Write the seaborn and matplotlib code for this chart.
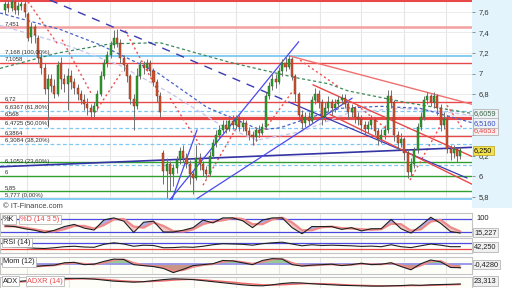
import numpy as np
import pandas as pd
import matplotlib
matplotlib.use("Agg")
import matplotlib.pyplot as plt
import matplotlib.transforms as mtransforms
from matplotlib.patches import Rectangle
import seaborn as sns

# ---------------- data ----------------
opens = [7.62, 7.68, 7.64, 7.70, 7.62, 7.66, 7.68, 7.58, 7.36, 7.45,
         7.35, 7.15, 7.05, 6.85, 6.95, 6.88, 6.80, 7.10, 6.95, 6.90,
         6.98, 6.92, 6.86, 6.80, 6.74, 6.70, 6.66, 6.62, 6.68, 6.80,
         6.98, 7.10, 7.18, 7.28, 7.35, 7.30, 7.15, 7.08, 6.98, 6.75,
         6.68, 6.98, 7.08, 7.05, 7.10, 7.02, 6.92, 6.78, 6.22, 6.05,
         6.12, 6.02, 6.08, 6.16, 6.24, 6.18, 6.12, 6.02, 5.98, 6.18,
         6.12, 6.06, 6.02, 6.20, 6.32, 6.40, 6.45, 6.50, 6.46, 6.54,
         6.50, 6.56, 6.48, 6.52, 6.44, 6.40, 6.38, 6.45, 6.42, 6.48,
         6.78, 6.88, 6.95, 6.92, 7.02, 7.10, 7.06, 7.14, 6.98, 6.80,
         6.60, 6.52, 6.58, 6.54, 6.74, 6.80, 6.72, 6.58, 6.66, 6.72,
         6.66, 6.70, 6.74, 6.76, 6.70, 6.62, 6.66, 6.58, 6.56, 6.50,
         6.46, 6.50, 6.55, 6.44, 6.36, 6.40, 6.45, 6.78, 6.72, 6.40,
         6.32, 6.36, 6.22, 6.04, 6.12, 6.25, 6.48, 6.58, 6.74, 6.78,
         6.72, 6.78, 6.66, 6.50, 6.56, 6.26, 6.22, 6.26, 6.20]
closes = [7.68, 7.64, 7.70, 7.62, 7.66, 7.68, 7.60, 7.35, 7.45, 7.38,
          7.15, 7.05, 6.85, 6.95, 6.88, 6.80, 7.08, 6.95, 6.90, 6.98,
          6.92, 6.86, 6.80, 6.74, 6.70, 6.66, 6.62, 6.68, 6.80, 6.98,
          7.10, 7.18, 7.28, 7.35, 7.30, 7.15, 7.08, 6.98, 6.75, 6.68,
          6.98, 7.08, 7.05, 7.10, 7.02, 6.92, 6.78, 6.62, 6.05, 6.12,
          6.02, 6.08, 6.16, 6.24, 6.18, 6.12, 6.02, 5.98, 6.18, 6.12,
          6.06, 6.02, 6.20, 6.32, 6.40, 6.45, 6.50, 6.46, 6.54, 6.50,
          6.56, 6.48, 6.52, 6.44, 6.40, 6.38, 6.45, 6.42, 6.48, 6.78,
          6.88, 6.95, 6.92, 7.02, 7.10, 7.06, 7.14, 6.98, 6.80, 6.60,
          6.52, 6.58, 6.54, 6.74, 6.80, 6.72, 6.58, 6.66, 6.72, 6.66,
          6.70, 6.74, 6.76, 6.70, 6.62, 6.66, 6.58, 6.56, 6.50, 6.46,
          6.50, 6.55, 6.44, 6.36, 6.40, 6.45, 6.78, 6.72, 6.40, 6.32,
          6.36, 6.22, 6.04, 6.12, 6.25, 6.48, 6.58, 6.74, 6.78, 6.72,
          6.78, 6.66, 6.50, 6.56, 6.26, 6.22, 6.26, 6.20, 6.25]
highs = [7.72, 7.71, 7.73, 7.72, 7.70, 7.72, 7.71, 7.60, 7.50, 7.48,
         7.38, 7.20, 7.10, 7.00, 7.00, 6.95, 7.12, 7.16, 7.00, 7.05,
         7.03, 6.96, 6.90, 6.84, 6.80, 6.76, 6.70, 6.72, 6.84, 7.02,
         7.14, 7.22, 7.32, 7.42, 7.43, 7.34, 7.18, 7.10, 7.00, 6.80,
         7.05, 7.12, 7.12, 7.14, 7.13, 7.05, 6.95, 6.82, 6.25, 6.18,
         6.15, 6.12, 6.20, 6.28, 6.30, 6.22, 6.16, 6.06, 6.30, 6.22,
         6.15, 6.10, 6.24, 6.36, 6.45, 6.50, 6.55, 6.55, 6.58, 6.60,
         6.60, 6.60, 6.57, 6.55, 6.48, 6.44, 6.48, 6.50, 6.52, 6.82,
         6.92, 7.00, 7.00, 7.06, 7.14, 7.16, 7.18, 7.16, 7.00, 6.82,
         6.64, 6.62, 6.62, 6.78, 6.86, 6.84, 6.75, 6.72, 6.78, 6.75,
         6.75, 6.78, 6.80, 6.80, 6.72, 6.70, 6.68, 6.62, 6.60, 6.54,
         6.54, 6.60, 6.58, 6.47, 6.46, 6.50, 6.84, 6.84, 6.74, 6.44,
         6.42, 6.38, 6.26, 6.18, 6.28, 6.52, 6.62, 6.78, 6.82, 6.80,
         6.82, 6.80, 6.70, 6.62, 6.60, 6.30, 6.30, 6.28, 6.28]
lows = [7.58, 7.60, 7.61, 7.58, 7.57, 7.62, 7.55, 7.32, 7.30, 7.30,
        7.10, 7.00, 6.80, 6.48, 6.82, 6.76, 6.78, 6.85, 6.82, 6.64,
        6.85, 6.80, 6.74, 6.70, 6.64, 6.60, 6.56, 6.58, 6.64, 6.78,
        6.95, 7.06, 7.15, 7.25, 7.26, 7.10, 7.02, 6.92, 6.70, 6.45,
        6.65, 6.95, 7.00, 7.02, 6.98, 6.88, 6.72, 6.58, 5.92, 5.79,
        5.85, 5.90, 6.03, 6.12, 6.14, 6.08, 5.92, 5.82, 5.96, 6.06,
        6.00, 5.98, 6.00, 6.18, 6.28, 6.36, 6.42, 6.42, 6.44, 6.46,
        6.46, 6.44, 6.44, 6.40, 6.35, 6.30, 6.34, 6.38, 6.40, 6.46,
        6.75, 6.84, 6.86, 6.90, 6.98, 7.02, 7.04, 6.94, 6.72, 6.55,
        6.46, 6.48, 6.50, 6.52, 6.70, 6.66, 6.50, 6.54, 6.62, 6.60,
        6.62, 6.66, 6.70, 6.66, 6.56, 6.58, 6.52, 6.50, 6.44, 6.40,
        6.42, 6.46, 6.40, 6.30, 6.32, 6.36, 6.42, 6.66, 6.34, 6.26,
        6.28, 6.16, 5.98, 6.00, 6.08, 6.22, 6.45, 6.55, 6.70, 6.68,
        6.66, 6.60, 6.44, 6.46, 6.22, 6.16, 6.18, 6.14, 6.17]

# horizontal support / resistance levels and Fibonacci levels
red_levels = [7.707, 7.451, 7.1058, 6.72, 6.568, 6.3864]
fib_levels = [7.168, 6.6367, 6.4725, 6.3084, 6.1053, 5.777]
green_levels = [6.135, 6.0, 5.85]
level_values = [7.451, 7.168, 7.1058, 6.72, 6.6367, 6.568, 6.4725, 6.3864,
                6.3084, 6.1053, 6.0, 5.85, 5.777]
level_labels = ["7,451", "7,168 (100,00%)", "7,1058", "6,72", "6,6367 (61,80%)",
                "6,568", "6,4725 (50,00%)", "6,3864", "6,3084 (38,20%)",
                "6,1053 (23,60%)", "6", "5,85", "5,777 (0,00%)"]

# moving averages (bar index, price)
ma_long_idx = [-1.5, 16, 32, 47, 58, 68, 80, 88, 98, 104, 121, 141.5]
ma_long = [7.05, 7.20, 7.29, 7.30, 7.20, 7.11, 7.02, 6.96, 6.90, 6.83, 6.72, 6.61]
ma_mid_idx = [-1.5, 16.7, 28.8, 46.1, 61.2, 77.3, 83.3, 92.4, 101.5, 113.6, 125.8, 134.8, 141.5]
ma_mid = [7.59, 7.43, 7.28, 7.01, 6.67, 6.45, 6.47, 6.57, 6.66, 6.68, 6.66, 6.58, 6.52]
ma_pale_idx = [-1.5, 16.7, 34.8, 50, 65.2, 76.4, 89.4, 104.5, 119.7, 134.8, 141.5]
ma_pale = [7.47, 7.30, 7.08, 6.81, 6.50, 6.35, 6.43, 6.62, 6.66, 6.62, 6.59]

# parabolic SAR runs: start index, start value, end index, end value
sar_i0 = [7.0, 17.3, 27.3, 36.4, 50.0, 60.0, 75.2, 89.4, 106.7, 122.7, 133.9]
sar_v0 = [7.70, 7.33, 6.62, 7.42, 6.76, 5.91, 6.30, 7.13, 6.69, 5.96, 6.69]
sar_i1 = [16.1, 26.4, 35.5, 47.0, 59.1, 71.2, 87.0, 101.5, 115.2, 133.3, 138.5]
sar_v1 = [7.28, 6.79, 7.02, 6.79, 6.30, 6.53, 6.82, 6.86, 6.47, 6.57, 6.47]

# trend lines: (start idx, start price, end idx, end price)
trend_flat = (-1.5, 6.09, 141.5, 6.28)
trend_up_long = (50.0, 5.77, 89.0, 7.31)
trend_up_short = (50.6, 5.77, 58.2, 6.45)
trend_up_mid = (58.2, 5.78, 105.2, 6.76)
trend_down = (13.6, 7.717, 140.0, 5.98)
trend_down_break = 86.0
chan_red_1 = (86.4, 7.17, 141.5, 6.70)
chan_red_2 = (93.3, 6.89, 141.5, 6.19)
chan_red_3 = (98.5, 6.60, 141.5, 5.92)

# indicators sampled every 3 bars
ind_idx = list(range(0, 139, 3))
stoch_k = [48, 45, 35, 28, 17, 28, 45, 55, 38, 29, 76, 85, 70, 18, 65, 70, 20, 20, 28, 40,
           75, 62, 85, 85, 72, 40, 75, 85, 85, 40, 12, 45, 45, 45, 32, 40, 25, 35, 35, 78,
           35, 15, 50, 88, 60, 22, 15.2]
stoch_d = [46, 46, 40, 32, 24, 23, 33, 48, 48, 36, 52, 78, 80, 45, 40, 64, 48, 24, 22, 32,
           56, 68, 74, 84, 80, 56, 56, 78, 86, 64, 28, 28, 42, 45, 38, 36, 33, 30, 33, 58,
           56, 26, 32, 68, 76, 42, 22]
rsi = [45, 40, 38, 32, 30, 35, 42, 45, 40, 38, 58, 68, 60, 45, 52, 50, 35, 36, 40, 38,
       45, 55, 62, 60, 58, 52, 62, 68, 72, 60, 48, 55, 50, 52, 50, 48, 44, 46, 42, 55,
       42, 36, 48, 60, 52, 42, 42.25]
mom = [0.0, -0.1, -0.3, -0.3, -0.2, -0.15, 0.1, 0.15, -0.1, -0.05, 0.25, 0.5, 0.45, -0.1,
       -0.2, -0.3, -0.5, -0.95, -0.6, -0.2, -0.1, 0.0, 0.35, 0.3, 0.1, -0.1, 0.35, 0.55,
       0.5, -0.1, -0.25, -0.15, -0.1, -0.05, -0.2, -0.1, 0.05, -0.1, -0.05, 0.1, -0.3,
       -0.65, 0.0, 0.4, 0.2, -0.4, -0.428]
mom_sig = [0.0, -0.05, -0.2, -0.3, -0.25, -0.18, 0.0, 0.1, 0.0, -0.08, 0.1, 0.38, 0.48, 0.1,
           -0.15, -0.25, -0.4, -0.75, -0.7, -0.35, -0.15, -0.05, 0.2, 0.32, 0.18, 0.0, 0.2,
           0.45, 0.52, 0.1, -0.2, -0.2, -0.12, -0.08, -0.15, -0.12, 0.0, -0.05, -0.08, 0.05,
           -0.15, -0.5, -0.2, 0.25, 0.3, -0.2, -0.42]
adx = [30, 32, 35, 38, 40, 42, 44, 45, 44, 42, 38, 34, 32, 30, 32, 36, 40, 43, 42, 40,
       36, 32, 28, 24, 20, 17, 16, 20, 25, 28, 27, 24, 22, 20, 18, 17, 16, 15, 15, 16,
       17, 19, 18, 20, 21, 22, 23.3]
adxr = [28, 30, 32, 34, 36, 38, 40, 42, 43, 43, 41, 38, 35, 33, 32, 33, 35, 38, 40, 41,
        39, 36, 33, 30, 26, 23, 20, 19, 20, 22, 24, 25, 24, 23, 21, 19, 18, 17, 16, 16,
        16, 17, 17, 18, 19, 20, 21]

price_ticks = [5.8, 6.0, 6.2, 6.4, 6.6, 6.8, 7.0, 7.2, 7.4, 7.6]
# 6,4 and 6,6 are hidden behind the value boxes in the original
price_tick_labels = ["5,8", "6", "6,2", "", "", "6,8", "7", "7,2", "7,4", "7,6"]

# ---------------- style / layout ----------------
sns.set_theme(style="white")
plt.rcParams['font.family'] = ['Liberation Sans', 'DejaVu Sans']

W, H, PW = 512, 288, 472
XL = (-1.5, 141.5)
GRID_X = [6.7, 19.4, 31.8, 44.5, 57.3, 70.0, 83.0, 95.5, 107.9, 120.9, 133.6]
RED = "#e84848"

fig = plt.figure(figsize=(W / 100, H / 100), dpi=100)
fig.patch.set_facecolor("white")
fig.patches.append(Rectangle((PW / W, 1 - 208 / H), (W - PW) / W, 208 / H,
                             transform=fig.transFigure, facecolor="#e3f4fc",
                             edgecolor="none", zorder=-5))


def add_panel(top, bottom):
    a = fig.add_axes([0, 1 - bottom / H, PW / W, (bottom - top) / H])
    a.set_xlim(*XL)
    a.set_xticks([])
    for gx in GRID_X:
        a.axvline(gx, color="#e6e6e6", lw=0.8, zorder=0)
    return a


def ftext(px, py, s, color="#202020", fc=None, ec="#a8a8a8", size=5.3, ha="left"):
    bbox = None
    if fc is not None:
        bbox = dict(boxstyle="square,pad=0.18", fc=fc, ec=ec, lw=0.5)
    fig.text(px / W, 1 - py / H, s, fontsize=size, color=color, ha=ha, va="center",
             bbox=bbox, zorder=20)


def seg(a, t, **kw):
    a.plot([t[0], t[2]], [t[1], t[3]], **kw)


# ---------------- main price panel ----------------
ax = add_panel(0, 200)
ax.set_facecolor("white")
ax.set_ylim(5.766, 7.717)
for sp in ax.spines.values():
    sp.set_visible(False)
for t in price_ticks:
    ax.axhline(t, color="#ececec", lw=0.7, zorder=0)

ax.yaxis.tick_right()
ax.set_yticks(price_ticks)
ax.set_yticklabels(price_tick_labels, fontsize=5.4, color="#303030")
ax.tick_params(axis="y", length=2.5, width=0.6, color="#808080", pad=2)

# horizontal levels
red_styles = [(RED, 1.5), ("#f2a0a0", 1.8), (RED, 1.0), (RED, 1.0), (RED, 2.3), (RED, 1.0)]
for lv, (c, w) in zip(red_levels, red_styles):
    ax.axhline(lv, color=c, lw=w, zorder=2)
for k, lv in enumerate(fib_levels):
    solid = k in (0, len(fib_levels) - 1)
    ax.axhline(lv, color="#7cc8f2", lw=1.3 if solid else 0.9,
               ls="-" if solid else (0, (3, 2)), zorder=2)
for lv in green_levels:
    ax.axhline(lv, color="#30a030", lw=1.0, zorder=2)

ytrans = mtransforms.blended_transform_factory(ax.transAxes, ax.transData)
for v, s in zip(level_values, level_labels):
    ax.text(0.01, v + 0.012, s, transform=ytrans, fontsize=4.3, color="#303030",
            va="bottom", ha="left", zorder=6)

# moving averages (seaborn)
sns.lineplot(x=ma_pale_idx, y=ma_pale, ax=ax, color="#c8c8f0", lw=1.0,
             linestyle=(0, (3, 2)), sort=False, estimator=None, zorder=2)
sns.lineplot(x=ma_mid_idx, y=ma_mid, ax=ax, color="#4a62c8", lw=0.9,
             linestyle=(0, (2.5, 2)), sort=False, estimator=None, zorder=2)
sns.lineplot(x=ma_long_idx, y=ma_long, ax=ax, color="#3a8a5a", lw=0.9,
             linestyle=(0, (2.5, 2)), sort=False, estimator=None, zorder=2)

# parabolic SAR runs
for a0, v0, a1, v1 in zip(sar_i0, sar_v0, sar_i1, sar_v1):
    sns.lineplot(x=[a0, a1], y=[v0, v1], ax=ax, color="#ee5050", lw=1.0,
                 linestyle=(0, (1.5, 2)), estimator=None, zorder=2)

# trend lines and channels
seg(ax, trend_flat, color="#3434a4", lw=1.2, zorder=3)
seg(ax, trend_up_long, color="#4a4af0", lw=0.9, zorder=3)
seg(ax, trend_up_short, color="#4a4af0", lw=0.9, zorder=3)
seg(ax, trend_up_mid, color="#4a4af0", lw=0.9, zorder=3)
x0, p0, x1, p1 = trend_down
pb = p0 + (p1 - p0) * (trend_down_break - x0) / (x1 - x0)
ax.plot([x0, trend_down_break], [p0, pb], color="#3a3ab4", lw=1.0,
        ls=(0, (6, 5)), zorder=3)
ax.plot([trend_down_break, x1], [pb, p1], color="#3a3ab4", lw=0.9, zorder=3)
seg(ax, chan_red_1, color="#f07070", lw=1.0, zorder=3)
seg(ax, chan_red_2, color=RED, lw=1.0, zorder=3)
seg(ax, chan_red_3, color=RED, lw=1.0, zorder=3)

# candles
df = pd.DataFrame({"i": np.arange(len(opens)), "o": opens, "c": closes,
                   "h": highs, "l": lows})
up = df.c >= df.o
ax.vlines(df.i, df.l, df.h, color="#707070", lw=0.7, zorder=4)
ax.bar(df.i[up], (df.c - df.o)[up].clip(lower=0.01), bottom=df.o[up], width=0.62,
       color="#2aa02a", edgecolor="#245a24", lw=0.3, zorder=5)
ax.bar(df.i[~up], (df.c - df.o)[~up], bottom=df.o[~up], width=0.62,
       color="#d4532e", edgecolor="#6a2a18", lw=0.3, zorder=5)

# right-hand value boxes
rx = 474
def py_of(p):
    return 94 + (6.8 - p) * 102.5
ftext(rx, py_of(6.6059), "6,6059", color="#3d6a4d", fc="#eef2f4")
ftext(rx, py_of(6.4653) + 2, "6,4653", color=RED, fc="#f6eef0")
ftext(rx, py_of(6.5160), "6,5160", color="#3a4fc0", fc="#eef2f8")
ftext(rx, py_of(6.25), "6,250", color="#101010", fc="#f4e24a", ec="#b8a020")

# ---------------- indicator panels ----------------
ftext(3, 207, "\u00a9 IT-Finance.com", color="#404040", size=5.4)


def style_panel(a):
    a.set_facecolor("#fefef9")
    a.set_yticks([])
    for sp in a.spines.values():
        sp.set_color("#c4c4c4")
        sp.set_linewidth(0.8)


def label_boxes(a, yf, parts):
    x = 0.006
    for s, c, w in parts:
        a.text(x, yf, s, transform=a.transAxes, fontsize=5.3, color=c, va="center",
               ha="left", zorder=10,
               bbox=dict(boxstyle="square,pad=0.18", fc="white", ec="#a8a8a8", lw=0.5))
        x += w


ix = np.array(ind_idx, dtype=float)

# Stochastic
axs = add_panel(213, 236)
style_panel(axs)
axs.set_ylim(1.5, 107.7)
k = np.array(stoch_k, dtype=float)
d = np.array(stoch_d, dtype=float)
axs.fill_between(ix, k, d, where=k >= d, interpolate=True, color="#7070d8", alpha=0.55, lw=0)
axs.fill_between(ix, k, d, where=k < d, interpolate=True, color="#f2a0a0", alpha=0.6, lw=0)
axs.axhline(80, color="#4a4ae4", lw=0.9)
axs.axhline(20, color="#4a4ae4", lw=0.9)
sns.lineplot(x=ix, y=d, ax=axs, color="#ee8a8a", lw=1.6, estimator=None)
sns.lineplot(x=ix, y=k, ax=axs, color="#202020", lw=0.8, estimator=None)
axs.set_xlim(*XL)
label_boxes(axs, 0.72, [("%K", "#202020", 0.037), ("%D (14 3 5)", RED, 0.1)])
ftext(rx + 2, 218, "100", color="#202020", size=5.4)
ftext(rx, 232.5, "15,227", fc="#f0f0f0")

# RSI
axr = add_panel(238, 253)
style_panel(axr)
axr.set_ylim(0, 100)
axr.axhline(70, color="#4a4ae4", lw=0.9)
axr.axhline(30, color=RED, lw=0.9)
sns.lineplot(x=ix, y=rsi, ax=axr, color="#202020", lw=0.8, estimator=None)
axr.set_xlim(*XL)
label_boxes(axr, 0.69, [("RSI (14)", "#202020", 0.1)])
ftext(rx, 247, "42,250", fc="#f0f0f0")

# Momentum
axm = add_panel(257, 274)
style_panel(axm)
axm.set_ylim(-1.10, 0.72)
m = np.array(mom, dtype=float)
axm.fill_between(ix, m, 0, where=m >= 0, interpolate=True, color="#8cc48c", alpha=0.9, lw=0)
axm.fill_between(ix, m, 0, where=m < 0, interpolate=True, color="#c48a78", alpha=0.9, lw=0)
axm.axhline(0, color="#9a9ae8", lw=1.4)
sns.lineplot(x=ix, y=mom_sig, ax=axm, color="#ee8a8a", lw=1.3, estimator=None)
sns.lineplot(x=ix, y=m, ax=axm, color="#202020", lw=0.8, estimator=None)
axm.set_xlim(*XL)
label_boxes(axm, 0.72, [("Mom (12)", "#202020", 0.1)])
ftext(rx, 264.5, "-0,4280", fc="#f0f0f0")

# ADX / ADXR
axa = add_panel(277, 290)
style_panel(axa)
axa.set_ylim(0, 50)
a_ = np.array(adx, dtype=float)
r_ = np.array(adxr, dtype=float)
axa.fill_between(ix, a_, r_, where=a_ >= r_, interpolate=True, color="#7a7ad8", alpha=0.6, lw=0)
axa.fill_between(ix, a_, r_, where=a_ < r_, interpolate=True, color="#f2a0a0", alpha=0.6, lw=0)
sns.lineplot(x=ix, y=r_, ax=axa, color="#ee6a6a", lw=1.0, estimator=None)
sns.lineplot(x=ix, y=a_, ax=axa, color="#202020", lw=0.8, estimator=None)
axa.set_xlim(*XL)
label_boxes(axa, 0.69, [("ADX", "#202020", 0.052), ("ADXR (14)", RED, 0.1)])
ftext(rx, 281, "23,313", fc="#f0f0f0")

for a in (ax, axs, axr, axm, axa):
    a.set_xlabel("")
    a.set_ylabel("")
    if a.get_legend() is not None:
        a.get_legend().remove()

fig.savefig("out.png", dpi=100, facecolor="white")
